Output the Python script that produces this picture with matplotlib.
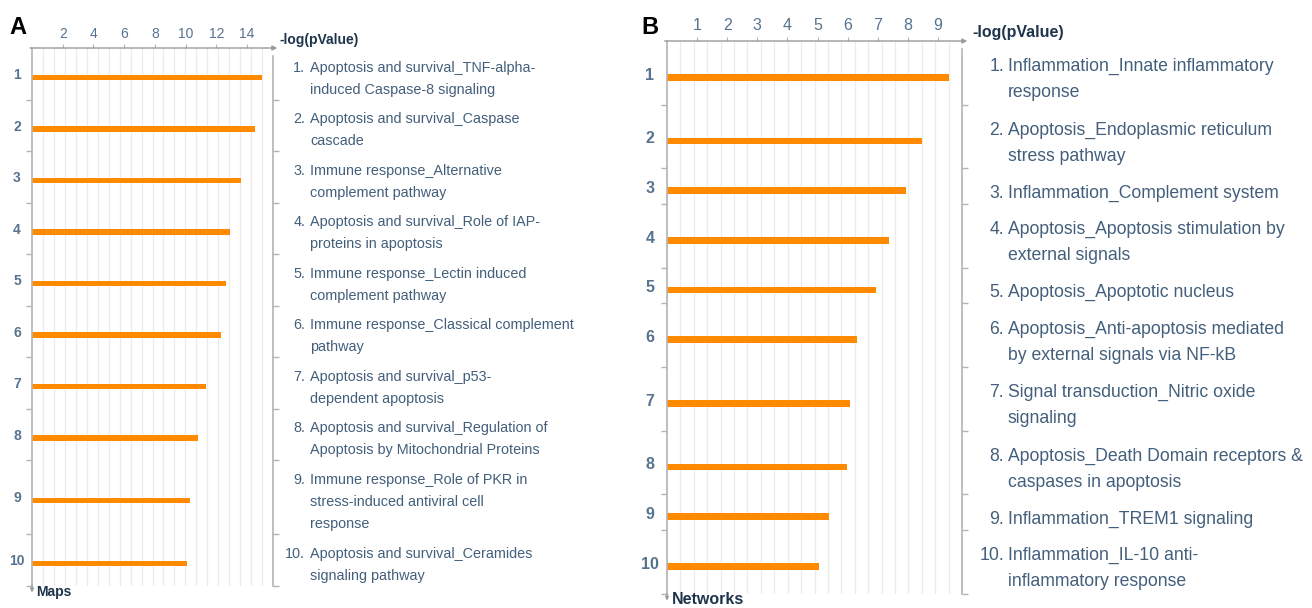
import matplotlib.pyplot as plt
import matplotlib.transforms as mtransforms
import numpy as np

plt.rcParams['font.family'] = ['Liberation Sans', 'DejaVu Sans']

# panel A: maps
maps_values = [15.0, 14.5, 13.6, 12.9, 12.6, 12.3, 11.35, 10.8, 10.3, 10.1]
maps_ticks = [2, 4, 6, 8, 10, 12, 14]
maps_labels = [
    "Apoptosis and survival_TNF-alpha-\ninduced Caspase-8 signaling",
    "Apoptosis and survival_Caspase\ncascade",
    "Immune response_Alternative\ncomplement pathway",
    "Apoptosis and survival_Role of IAP-\nproteins in apoptosis",
    "Immune response_Lectin induced\ncomplement pathway",
    "Immune response_Classical complement\npathway",
    "Apoptosis and survival_p53-\ndependent apoptosis",
    "Apoptosis and survival_Regulation of\nApoptosis by Mitochondrial Proteins",
    "Immune response_Role of PKR in\nstress-induced antiviral cell\nresponse",
    "Apoptosis and survival_Ceramides\nsignaling pathway",
]

# panel B: networks
net_values = [9.37, 8.47, 7.94, 7.37, 6.94, 6.31, 6.08, 5.98, 5.38, 5.05]
net_ticks = [1, 2, 3, 4, 5, 6, 7, 8, 9]
net_labels = [
    "Inflammation_Innate inflammatory\nresponse",
    "Apoptosis_Endoplasmic reticulum\nstress pathway",
    "Inflammation_Complement system",
    "Apoptosis_Apoptosis stimulation by\nexternal signals",
    "Apoptosis_Apoptotic nucleus",
    "Apoptosis_Anti-apoptosis mediated\nby external signals via NF-kB",
    "Signal transduction_Nitric oxide\nsignaling",
    "Apoptosis_Death Domain receptors &\ncaspases in apoptosis",
    "Inflammation_TREM1 signaling",
    "Inflammation_IL-10 anti-\ninflammatory response",
]

W, H = 1312, 608
fig = plt.figure(figsize=(W / 100, H / 100), dpi=100)

AXIS_COL = '#b3b3b3'
TICK_COL = '#56738f'
TEXT_COL = '#435f7b'
DARK = '#1e344c'
BAR_COL = '#ff8a00'


def fx(px):
    return px / W


def fy(py):
    return 1 - py / H


def panel(values, labels, ticks, left, top, width, xmax, line_h, base, bar_h,
          bar_off, txt_off, txt_gap, fs_txt, fs_tick, tick_pad, num_x, body_x,
          ylab_x, title, title_xy, fs_title, bottom_word, bottom_xy, letter,
          letter_xy):
    nlines = [lab.count('\n') + 1 for lab in labels]
    heights = [base + line_h * n for n in nlines]
    edges = np.concatenate([[0], np.cumsum(heights)])
    centers = (edges[:-1] + edges[1:]) / 2
    total = edges[-1]

    ax = fig.add_axes([fx(left), fy(top + total), width / W, total / H])
    ax.set_xlim(0, xmax)
    ax.set_ylim(total, 0)

    for g in np.linspace(0, xmax, 23)[1:-1]:
        ax.axvline(g, color='#ebebeb', lw=0.9, zorder=0)

    ax.barh(centers + bar_off, values, height=bar_h, color=BAR_COL, zorder=2)

    for s in ['top', 'bottom', 'right']:
        ax.spines[s].set_visible(False)
    ax.spines['left'].set_color(AXIS_COL)
    ax.spines['left'].set_linewidth(1.2)
    ax.plot([1, 1], [0, (total - 8) / total], transform=ax.transAxes,
            color=AXIS_COL, lw=1.2, clip_on=False)

    # top axis with arrow, left axis arrow down
    ax.annotate('', xy=(1.018, 1), xytext=(-0.008, 1), xycoords='axes fraction',
                arrowprops=dict(arrowstyle='-|>', color='#9a9a9a', lw=1.0,
                                mutation_scale=7, shrinkA=0, shrinkB=0))
    ax.annotate('', xy=(0, -7 / total), xytext=(0, 0), xycoords='axes fraction',
                arrowprops=dict(arrowstyle='-|>', color='#9a9a9a', lw=1.0,
                                mutation_scale=5, shrinkA=0, shrinkB=0))

    ax.xaxis.tick_top()
    ax.set_xticks(ticks)
    ax.set_xticklabels([str(t) for t in ticks])
    ax.tick_params(axis='x', which='major', length=3, color=AXIS_COL,
                   labelcolor=TICK_COL, labelsize=fs_tick, pad=tick_pad)
    ax.set_yticks([])
    ax.set_yticks(edges[1:], minor=True)
    ax.tick_params(axis='y', which='minor', left=True, right=True, length=4,
                   color=AXIS_COL, width=1.0, direction='out')

    tr = mtransforms.blended_transform_factory(fig.transFigure, ax.transData)
    for i, lab in enumerate(labels):
        ax.text(fx(ylab_x), centers[i] + bar_off - 2, str(i + 1), transform=tr,
                ha='center', va='center', fontsize=fs_tick, color=TICK_COL,
                fontweight='bold', clip_on=False)
        lines = lab.split('\n')
        y0 = centers[i] + txt_off - (len(lines) - 1) / 2 * txt_gap
        ax.text(fx(num_x), y0, f"{i + 1}.", transform=tr, ha='right',
                va='center', fontsize=fs_txt, color=TEXT_COL, clip_on=False)
        for j, line in enumerate(lines):
            ax.text(fx(body_x), y0 + j * txt_gap, line, transform=tr, ha='left',
                    va='center', fontsize=fs_txt, color=TEXT_COL, clip_on=False)

    fig.text(fx(title_xy[0]), fy(title_xy[1]), title, ha='left', va='center',
             fontsize=fs_title, color=DARK, fontweight='bold')
    fig.text(fx(bottom_xy[0]), fy(bottom_xy[1]), bottom_word, ha='left',
             va='center', fontsize=fs_title, color=DARK, fontweight='bold')
    fig.text(fx(letter_xy[0]), fy(letter_xy[1]), letter, ha='left', va='center',
             fontsize=17, color='black', fontweight='bold')
    return ax


panel(maps_values, maps_labels, maps_ticks, left=32, top=48, width=241,
      xmax=15.69, line_h=22.5, base=6.5, bar_h=5.5, bar_off=3.5, txt_off=5,
      txt_gap=22, fs_txt=10.4, fs_tick=10, tick_pad=2, num_x=305, body_x=310,
      ylab_x=17, title='-log(pValue)', title_xy=(280, 40), fs_title=10,
      bottom_word='Maps', bottom_xy=(36, 592), letter='A', letter_xy=(9, 28))

panel(net_values, net_labels, net_ticks, left=667, top=41, width=295,
      xmax=9.8, line_h=27.8, base=8, bar_h=6.5, bar_off=4.5, txt_off=7,
      txt_gap=26, fs_txt=12.7, fs_tick=11.5, tick_pad=3, num_x=1004, body_x=1008,
      ylab_x=650, title='-log(pValue)', title_xy=(972, 32), fs_title=11.5,
      bottom_word='Networks', bottom_xy=(672, 600), letter='B', letter_xy=(641, 27))

fig.savefig('out.png', dpi=100)
